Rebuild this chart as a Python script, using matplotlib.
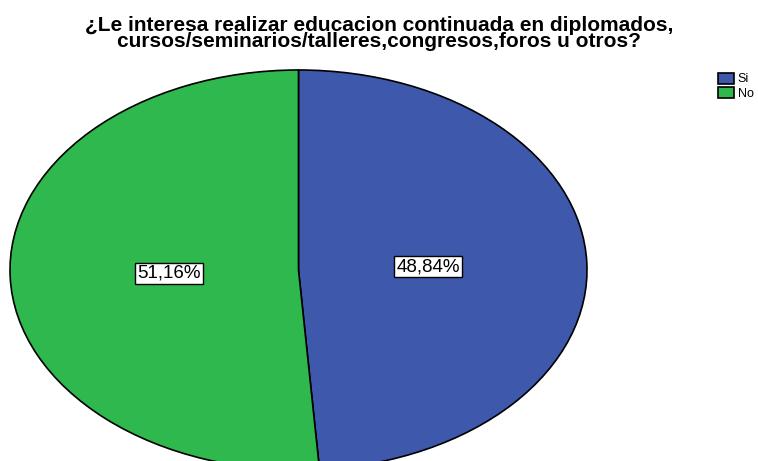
import numpy as np
import matplotlib.pyplot as plt

# data
labels = ['Si', 'No']
values = [48.84, 51.16]
pct_text = ['48,84%', '51,16%']
colors = ['#3E58AC', '#2EB84E']

title = ('¿Le interesa realizar educacion continuada en diplomados,\n'
         'cursos/seminarios/talleres,congresos,foros u otros?')

plt.rcParams['font.family'] = ['Liberation Sans', 'DejaVu Sans']

fig = plt.figure(figsize=(7.58, 4.61), dpi=100)
# stretched pie: ellipse spans x 10..587 px, y 70..470 px from top
ax = fig.add_axes([10 / 758, -9 / 461, 577 / 758, 400 / 461])

wedges, texts = ax.pie(values, colors=colors, startangle=90, counterclock=False,
                       wedgeprops=dict(edgecolor='black', linewidth=1.2))
ax.set_aspect('auto')
ax.set_xlim(-1, 1)
ax.set_ylim(-1, 1)

for w, t in zip(wedges, pct_text):
    ang = np.deg2rad((w.theta1 + w.theta2) / 2)
    ax.text(0.45 * np.cos(ang), 0.45 * np.sin(ang), t, ha='center', va='center',
            fontsize=13.5,
            bbox=dict(boxstyle='square,pad=0.12', facecolor='white',
                      edgecolor='black', linewidth=1))

fig.suptitle(title, fontsize=15, fontweight='bold', y=0.965, linespacing=0.8)

fig.legend(wedges, labels, loc='upper left', bbox_to_anchor=(709 / 758, 1 - 64 / 461),
           frameon=False, fontsize=9, handlelength=1.3, handleheight=0.95,
           handletextpad=0.3, labelspacing=0.15, borderpad=0.2)

fig.savefig('out.png', dpi=100)
